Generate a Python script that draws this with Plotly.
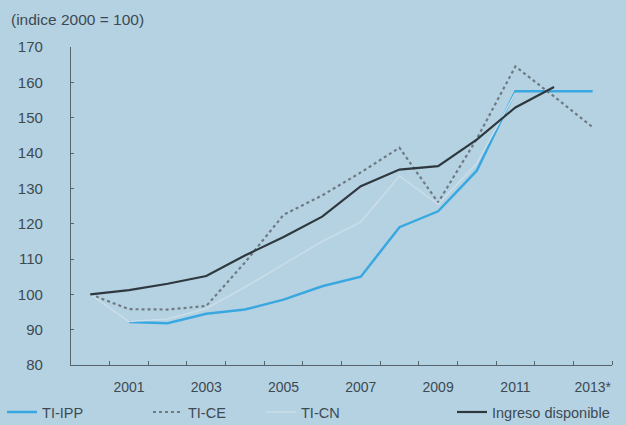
import plotly.graph_objects as go

years = list(range(2000, 2014))
ti_ipp = [None, 92.2, 91.8, 94.5, 95.7, 98.5, 102.3, 105.0, 119.0, 123.5, 135.0, 157.5, 157.5, 157.5]
ti_ce = [100, 95.8, 95.7, 96.7, 109.0, 122.5, 128.0, 134.5, 141.5, 126.0, 144.0, 164.5, 156.0, 147.3]
ti_cn = [100, 92.3, 93.0, 96.0, 102.0, 108.5, 115.0, 120.5, 133.5, 125.5, 137.0, 157.0, None, None]
ingreso = [100, 101.2, 103.0, 105.2, 111.0, 116.2, 122.0, 130.6, 135.3, 136.3, 143.8, 152.9, 158.7, None]

tick_years = [2001, 2003, 2005, 2007, 2009, 2011, 2013]
tick_labels = ["2001", "2003", "2005", "2007", "2009", "2011", "2013*"]
y_ticks = [80, 90, 100, 110, 120, 130, 140, 150, 160, 170]

bg = "#b5d2e2"
txt = "#3d4a52"
axis_col = "#56646c"

fig = go.Figure()
fig.add_trace(go.Scatter(x=years, y=ti_ipp, name="TI-IPP", mode="lines", legend="legend",
                         line=dict(color="#3aa8e0", width=2.5)))
fig.add_trace(go.Scatter(x=years, y=ti_ce, name="TI-CE", mode="lines", legend="legend2",
                         line=dict(color="#6f7a82", width=2.2, dash="dot")))
fig.add_trace(go.Scatter(x=years, y=ti_cn, name="TI-CN", mode="lines", legend="legend3",
                         line=dict(color="#cadde8", width=1.5)))
fig.add_trace(go.Scatter(x=years, y=ingreso, name="Ingreso disponible", mode="lines", legend="legend4",
                         line=dict(color="#2e383e", width=2.2)))

def leg(xpos):
    return dict(orientation="h", x=xpos, xanchor="left", y=-0.148, yanchor="middle",
                itemwidth=30, bgcolor="rgba(0,0,0,0)", font=dict(size=14.5, color=txt))

fig.update_layout(
    width=626, height=425,
    paper_bgcolor=bg, plot_bgcolor=bg,
    margin=dict(l=71, r=14, t=47, b=60, autoexpand=False),
    font=dict(family="Liberation Sans, Arial, sans-serif", size=13, color=txt),
    showlegend=True,
    legend=leg(-0.1275),
    legend2=leg(0.1423),
    legend3=leg(0.3512),
    legend4=leg(0.7043),
    annotations=[dict(text="(indice 2000 = 100)", xref="paper", yref="paper",
                      x=-0.1146, y=1.085, xanchor="left", yanchor="middle",
                      showarrow=False, font=dict(size=15.5, color=txt))],
)
fig.update_xaxes(
    range=[1999.5, 2013.5], tickvals=tick_years, ticktext=tick_labels,
    ticks="", showgrid=False, zeroline=False,
    showline=True, linecolor=axis_col, linewidth=1.2,
    ticklabelstandoff=9, tickfont=dict(size=14),
    minor=dict(tickvals=[y + 0.5 for y in years], ticks="inside", ticklen=4,
               tickcolor=axis_col, showgrid=False),
)
fig.update_yaxes(
    range=[80, 170], tickvals=y_ticks, ticks="inside", ticklen=3, tickcolor=axis_col,
    showgrid=False, zeroline=False, showline=True, linecolor=axis_col, linewidth=1.2,
    ticklabelstandoff=24, tickfont=dict(size=15),
)

fig.write_html(
    "out.html",
    config={"displayModeBar": False},
    post_script="document.body.style.margin='0';document.body.style.background='%s';" % bg,
)
